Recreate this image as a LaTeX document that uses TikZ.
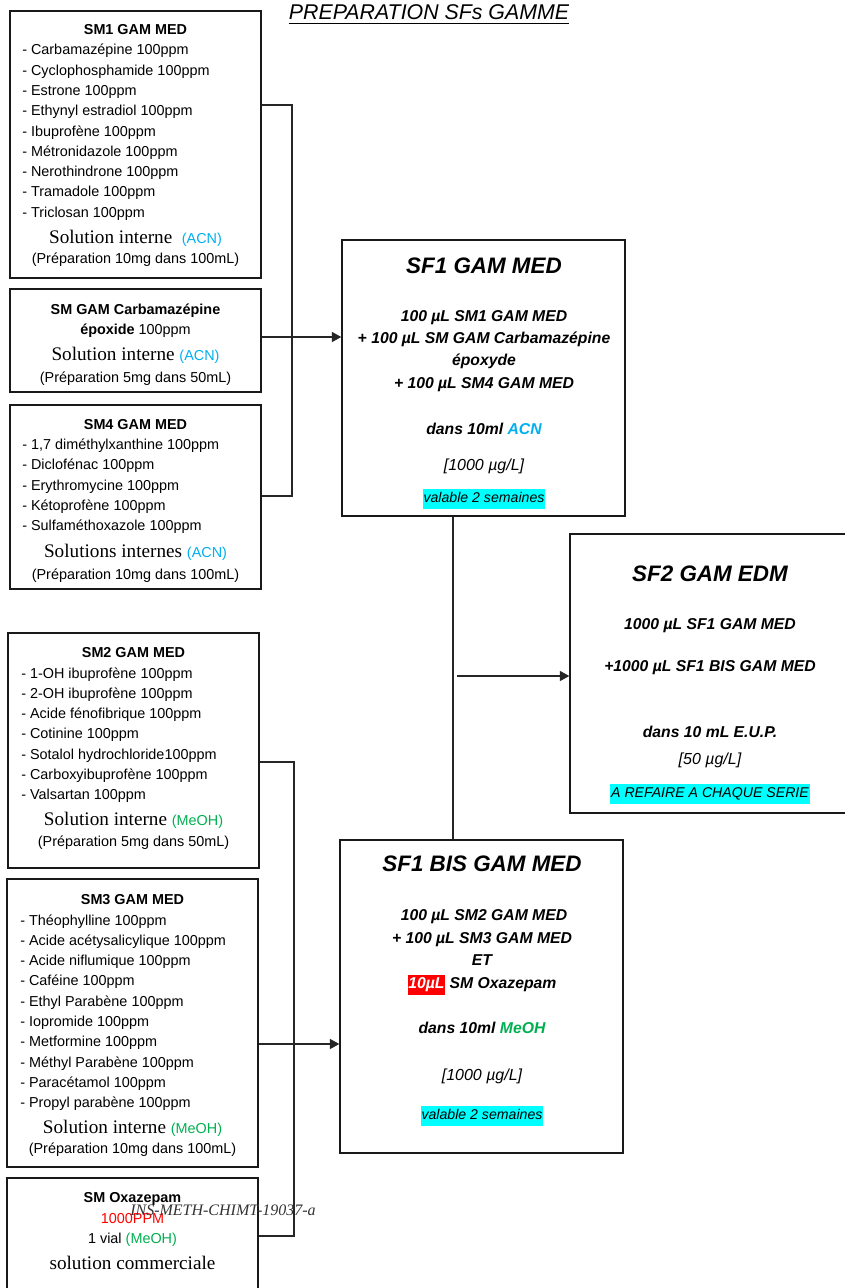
\documentclass[tikz,border=0pt]{standalone}
\usepackage{fontspec}
\setmainfont{Liberation Sans}
\newfontfamily\tnr{Liberation Serif}
\usetikzlibrary{fit,arrows.meta}
\definecolor{acn}{HTML}{00B0F0}
\definecolor{meoh}{HTML}{00B050}
\definecolor{hl}{HTML}{00FFFF}
\definecolor{redhl}{HTML}{FF0000}
\newcommand{\hlbox}[2]{{\setlength\fboxsep{0.6pt}\colorbox{#1}{\strut #2}}}
\begin{document}
\begin{tikzpicture}[x=0.75pt,y=-0.75pt,
  box/.style={draw=black!90, line width=1.1pt, inner sep=0pt},
  item/.style={anchor=base west, inner sep=0pt, font=\fontsize{10.8}{13}\selectfont},
  ctr/.style={anchor=base, inner sep=0pt, font=\fontsize{10.8}{13}\selectfont},
  ttl/.style={anchor=base, inner sep=0pt, font=\fontsize{10.8}{13}\selectfont\bfseries},
  sol/.style={anchor=base, inner sep=0pt, font=\fontsize{14.4}{16}\selectfont},
  sfhead/.style={anchor=base, inner sep=0pt, font=\fontsize{16.8}{20}\selectfont\bfseries\itshape},
  sfl/.style={anchor=base, inner sep=0pt, font=\fontsize{11.8}{14}\selectfont\bfseries\itshape},
  sfi/.style={anchor=base, inner sep=0pt, font=\fontsize{12}{14}\selectfont\itshape},
  sfhl/.style={anchor=base, inner sep=0pt, font=\fontsize{10.6}{14}\selectfont\itshape},
  conn/.style={line width=1pt, draw=black!85},
  arr/.style={conn, -{Triangle[length=7pt,width=7.5pt]}},
]
\useasboundingbox (0,0) rectangle (844,1288);
\fill[white] (0,0) rectangle (844,1288);

% title
\node[anchor=base, inner sep=0pt, font=\fontsize{16}{18}\selectfont\itshape] (title) at (429,20) {PREPARATION SFs GAMME};
\draw[line width=0.6pt] ([yshift=-2.2pt]title.base west) -- ([yshift=-2.2pt]title.base east);

% ---------- boxes ----------
\node[box, fit={(10,11) (261,278)}] (sm1) {};
\node[box, fit={(10,289) (261,392)}] (carb) {};
\node[box, fit={(10,405) (261,589)}] (sm4) {};
\node[box, fit={(342,240) (625,516)}] (sf1) {};
\node[box, fit={(570,534) (850,813)}] (sf2) {};
\node[box, fit={(8,633) (259,868)}] (sm2) {};
\node[box, fit={(7,879) (258,1167)}] (sm3) {};
\node[box, fit={(7,1178) (258,1300)}] (oxa) {};
\node[box, fit={(340,840) (623,1153)}] (sf1bis) {};

% ---------- SM1 ----------
\node[ttl] (sm1-t) at (135.5,35) {SM1 GAM MED};
\foreach \t [count=\i] in {Carbamazépine 100ppm, Cyclophosphamide 100ppm, Estrone 100ppm, Ethynyl estradiol 100ppm, Ibuprofène 100ppm, Métronidazole 100ppm, Nerothindrone 100ppm, Tramadole 100ppm, Triclosan 100ppm}
  \node[item] (sm1-\i) at (22,54.8+20.3*\i-20.3) {- \t};
\node[sol] (sm1-s) at (135.5,243) {\tnr Solution interne\ \ {\fontsize{10.8}{13}\selectfont\rmfamily\color{acn}(ACN)}};
\node[ctr] (sm1-p) at (135.5,263) {(Préparation 10mg dans 100mL)};

% ---------- SM GAM Carbamazepine ----------
\node[ttl] (carb-t) at (135.5,314) {SM GAM Carbamazépine};
\node[ctr] (carb-2) at (135.5,334) {\textbf{époxide} 100ppm};
\node[sol] (carb-s) at (135.5,360) {\tnr Solution interne {\fontsize{10.8}{13}\selectfont\rmfamily\color{acn}(ACN)}};
\node[ctr] (carb-p) at (135.5,382) {(Préparation 5mg dans 50mL)};

% ---------- SM4 ----------
\node[ttl] (sm4-t) at (135.5,429) {SM4 GAM MED};
\foreach \t [count=\i] in {{1,7 diméthylxanthine 100ppm}, Diclofénac 100ppm, Erythromycine 100ppm, Kétoprofène 100ppm, Sulfaméthoxazole 100ppm}
  \node[item] (sm4-\i) at (22,449.5+20.3*\i-20.3) {- \t};
\node[sol] (sm4-s) at (135.5,557) {\tnr Solutions internes {\fontsize{10.8}{13}\selectfont\rmfamily\color{acn}(ACN)}};
\node[ctr] (sm4-p) at (135.5,579) {(Préparation 10mg dans 100mL)};

% ---------- SM2 ----------
\node[ttl] (sm2-t) at (133.5,657) {SM2 GAM MED};
\foreach \t [count=\i] in {1-OH ibuprofène 100ppm, 2-OH ibuprofène 100ppm, Acide fénofibrique 100ppm, Cotinine 100ppm, Sotalol hydrochloride100ppm, Carboxyibuprofène 100ppm, Valsartan 100ppm}
  \node[item] (sm2-\i) at (21,678+20.3*\i-20.3) {- \t};
\node[sol] (sm2-s) at (133.5,825) {\tnr Solution interne {\fontsize{10.8}{13}\selectfont\rmfamily\color{meoh}(MeOH)}};
\node[ctr] (sm2-p) at (133.5,846) {(Préparation 5mg dans 50mL)};

% ---------- SM3 ----------
\node[ttl] (sm3-t) at (132.5,904) {SM3 GAM MED};
\foreach \t [count=\i] in {Théophylline 100ppm, Acide acétysalicylique 100ppm, Acide niflumique 100ppm, Caféine 100ppm, Ethyl Parabène 100ppm, Iopromide 100ppm, Metformine 100ppm, Méthyl Parabène 100ppm, Paracétamol 100ppm, Propyl parabène 100ppm}
  \node[item] (sm3-\i) at (20,925+20.3*\i-20.3) {- \t};
\node[sol] (sm3-s) at (132.5,1133) {\tnr Solution interne {\fontsize{10.8}{13}\selectfont\rmfamily\color{meoh}(MeOH)}};
\node[ctr] (sm3-p) at (132.5,1153) {(Préparation 10mg dans 100mL)};

% ---------- SM Oxazepam ----------
\node[ttl] (oxa-t) at (132.5,1202) {SM Oxazepam};
\node[ctr, text=redhl] (oxa-2) at (132.5,1223) {1000PPM};
\node[ctr] (oxa-3) at (132.5,1243) {1 vial {\color{meoh}(MeOH)}};
\node[sol] (oxa-4) at (132.5,1269) {\tnr solution commerciale};
\node[anchor=base west, inner sep=0pt, text=black!80, font=\tnr\itshape\fontsize{12}{14}\selectfont] (ref) at (130,1215) {INS-METH-CHIMT-19037-a};

% ---------- SF1 ----------
\node[sfhead] (sf1-h) at (484,273) {SF1 GAM MED};
\node[sfl] (sf1-1) at (484,321.6) {100 µL SM1 GAM MED};
\node[sfl] (sf1-2) at (484,343.6) {+ 100 µL SM GAM Carbamazépine};
\node[sfl] (sf1-3) at (484,365.6) {époxyde};
\node[sfl] (sf1-4) at (484,388.6) {+ 100 µL SM4 GAM MED};
\node[sfl] (sf1-5) at (484,434.6) {dans 10ml {\color{acn}ACN}};
\node[sfi] (sf1-6) at (484,470) {[1000 µg/L]};
\node[sfhl] (sf1-7) at (484,502.5) {\hlbox{hl}{valable 2 semaines}};

% ---------- SF2 ----------
\node[sfhead] (sf2-h) at (710,581) {SF2 GAM EDM};
\node[sfl] (sf2-1) at (710,629.6) {1000 µL SF1 GAM MED};
\node[sfl] (sf2-2) at (710,671.6) {+1000 µL SF1 BIS GAM MED};
\node[sfl] (sf2-3) at (710,737.6) {dans 10 mL E.U.P.};
\node[sfi] (sf2-4) at (710,764) {[50 µg/L]};
\node[sfhl] (sf2-5) at (710,797.5) {\hlbox{hl}{A REFAIRE A CHAQUE SERIE}};

% ---------- SF1 BIS ----------
\node[sfhead] (sfb-h) at (482,871) {SF1 BIS GAM MED};
\node[sfl] (sfb-1) at (484,920.6) {100 µL SM2 GAM MED};
\node[sfl] (sfb-2) at (482,943.6) {+ 100 µL SM3 GAM MED};
\node[sfl] (sfb-3) at (482,965.6) {ET};
\node[sfl] (sfb-4) at (482,988.6) {\hlbox{redhl}{\color{white}10µL} SM Oxazepam};
\node[sfl] (sfb-5) at (482,1033.6) {dans 10ml {\color{meoh}MeOH}};
\node[sfi] (sfb-6) at (482,1080) {[1000 µg/L]};
\node[sfhl] (sfb-7) at (482,1119.5) {\hlbox{hl}{valable 2 semaines}};

% ---------- connectors ----------
\coordinate (ja) at (292,105);
\coordinate (jb) at (292,496);
\coordinate (ca) at (292,337);
\draw[conn] (sm1.east |- ja) -- (ja) -- (jb) -- (sm4.east |- jb);
\draw[arr] (carb.east |- ca) -- (sf1.west |- ca);

\coordinate (mx) at (453,600);
\coordinate (ma) at (457,676);
\draw[conn] (sf1.south -| mx) -- (sf1bis.north -| mx);
\draw[arr] (ma) -- (sf2.west |- ma);

\coordinate (jc) at (294,762);
\coordinate (jd) at (294,1236);
\coordinate (cb) at (294,1044);
\draw[conn] (sm2.east |- jc) -- (jc) -- (jd) -- (oxa.east |- jd);
\draw[arr] (sm3.east |- cb) -- (sf1bis.west |- cb);
\end{tikzpicture}
\end{document}
